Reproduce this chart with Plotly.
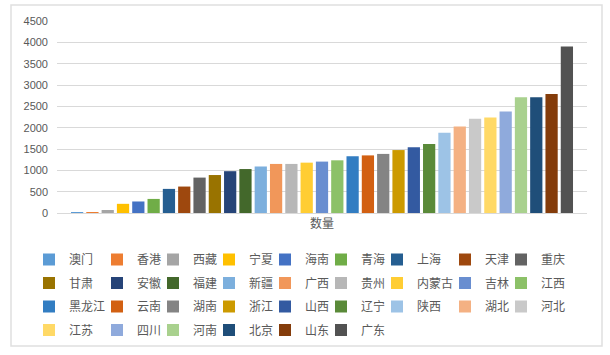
import plotly.graph_objects as go

category = ["数量"]
provinces = ["澳门", "香港", "西藏", "宁夏", "海南", "青海", "上海", "天津", "重庆",
             "甘肃", "安徽", "福建", "新疆", "广西", "贵州", "内蒙古", "吉林", "江西",
             "黑龙江", "云南", "湖南", "浙江", "山西", "辽宁", "陕西", "湖北", "河北",
             "江苏", "四川", "河南", "北京", "山东", "广东"]
values = [8, 12, 70, 215, 270, 330, 565, 620, 830,
          890, 980, 1030, 1090, 1150, 1150, 1180, 1205, 1235,
          1330, 1350, 1385, 1475, 1540, 1615, 1880, 2025, 2210,
          2240, 2380, 2710, 2710, 2790, 3900]
colors = ["#5B9BD5", "#ED7D31", "#A5A5A5", "#FFC000", "#4472C4", "#70AD47",
          "#255E91", "#9E480E", "#636363", "#997300", "#264478", "#43682B",
          "#7CAFDD", "#F1975A", "#B7B7B7", "#FFCD33", "#698ED0", "#8CC168",
          "#327DC2", "#D26012", "#848484", "#CC9A00", "#335AA1", "#5A8A39",
          "#9DC3E6", "#F4B183", "#C9C9C9", "#FFD966", "#8FAADC", "#A9D18E",
          "#1F4E79", "#843C0B", "#525252"]
y_ticks = [0, 500, 1000, 1500, 2000, 2500, 3000, 3500, 4000, 4500]

# legend laid out as 9 columns (one vertical legend per column)
n_cols = 9
col_left_px = [29, 97, 153, 209, 265, 321, 377, 445, 501]
plot_l, plot_w, plot_b, plot_h = 57, 530, 213, 192

fig = go.Figure()
for i, (name, v, c) in enumerate(zip(provinces, values, colors)):
    col = i % n_cols
    fig.add_trace(go.Bar(x=category, y=[v], name=name, marker_color=c,
                         marker_line_width=0, legendgroup=name,
                         legend="legend" if col == 0 else f"legend{col + 1}"))

legend_common = dict(orientation="v", xanchor="left", yanchor="top",
                     y=(plot_b - 245) / plot_h, traceorder="grouped",
                     tracegroupgap=4.5, itemwidth=30, bgcolor="rgba(0,0,0,0)",
                     font=dict(size=12, color="#595959"))
legends = {}
for col in range(n_cols):
    key = "legend" if col == 0 else f"legend{col + 1}"
    legends[key] = dict(legend_common, x=(col_left_px[col] - plot_l) / plot_w)

fig.update_layout(
    width=610, height=355,
    margin=dict(l=plot_l, r=610 - plot_l - plot_w, t=21, b=355 - plot_b, autoexpand=False),
    paper_bgcolor="white", plot_bgcolor="white",
    barmode="group", bargap=0.047, bargroupgap=0.2,
    font=dict(family="Noto Sans CJK SC, Liberation Sans", size=11, color="#595959"),
    showlegend=True,
    xaxis=dict(showgrid=False, showline=True, linecolor="#D9D9D9", linewidth=1,
               tickfont=dict(size=12, color="#595959"), ticks="", automargin=False),
    yaxis=dict(range=[0, 4500], tickvals=y_ticks, showgrid=True, gridcolor="#D9D9D9",
               gridwidth=1, zeroline=False, showline=False, ticks="",
               ticklabelstandoff=8, automargin=False,
               tickfont=dict(family="Liberation Sans", size=11, color="#595959")),
    shapes=[dict(type="rect", xref="paper", yref="paper",
                 x0=(11 - plot_l) / plot_w, x1=(602 - plot_l) / plot_w,
                 y0=(plot_b - 346) / plot_h, y1=(plot_b - 5) / plot_h,
                 line=dict(color="#E0E0E0", width=1.5), layer="below")],
    **legends,
)

fig.write_html("out.html", config={"displayModeBar": False},
               post_script="document.body.style.margin='0';")
